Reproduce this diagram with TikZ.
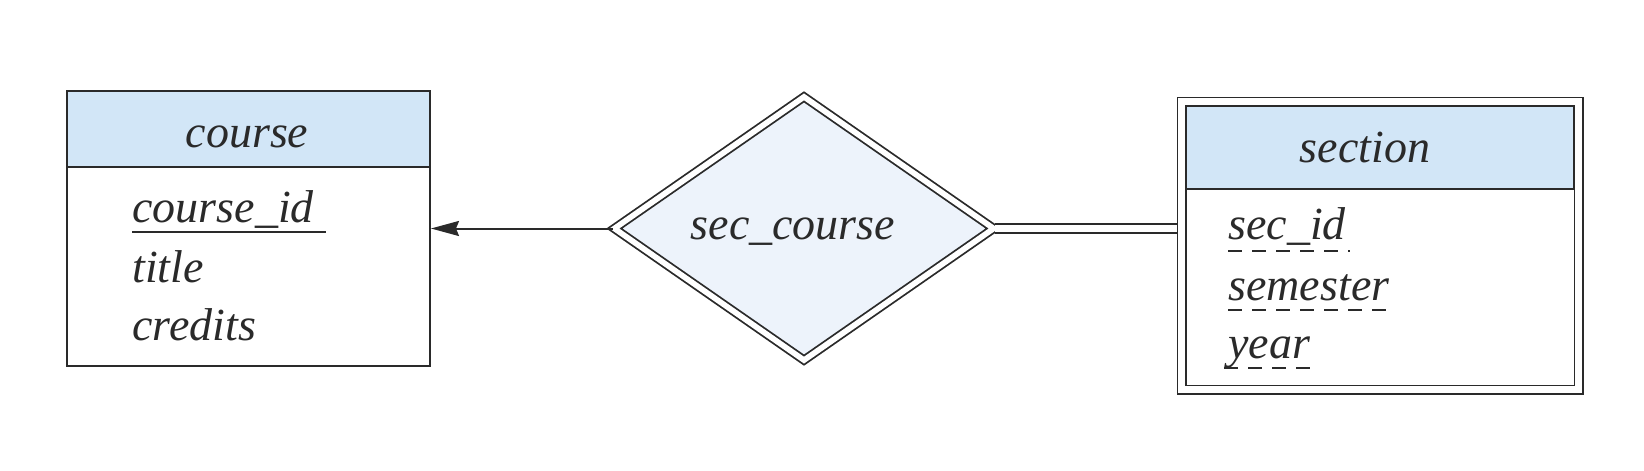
\documentclass[tikz,border=0pt]{standalone}
\usepackage{fontspec}
\setmainfont{Liberation Serif}
\usetikzlibrary{shapes.geometric,arrows.meta}
\definecolor{hdr}{HTML}{D2E6F7}
\definecolor{relfill}{HTML}{EDF3FB}
\definecolor{ink}{HTML}{2A2A2A}
\begin{document}
\begin{tikzpicture}[x=0.5pt,y=-0.5pt,
  lbl/.style={font=\fontsize{23}{27}\selectfont\itshape, text=ink, inner sep=0pt, anchor=base},
  attr/.style={lbl, anchor=base west},
  single/.style={draw=ink, line width=1pt},
  dbl/.style={draw=ink, double=white, line width=0.9pt, double distance=3.2pt},
  keyline/.style={draw=ink, line width=0.9pt},
  partkey/.style={draw=ink, line width=0.9pt, dash pattern=on 7pt off 5pt}
]
\useasboundingbox (0,0) rectangle (1644,471);

% course entity
\node[single, fill=hdr, minimum width=181.5pt, minimum height=38pt, inner sep=0pt] (coursehead) at (248.5,129) {};
\node[single, fill=white, minimum width=181.5pt, minimum height=99.5pt, inner sep=0pt] (coursebody) at (248.5,266.5) {};
\node[lbl] (coursename) at (247,147) {course};
\node[attr] (cid) at (132,222) {course\_id};
\node[attr] (ctitle) at (132,282) {title};
\node[attr] (ccredits) at (132,340) {credits};
\draw[keyline] ([yshift=-5pt]cid.base west) -- ([yshift=-5pt,xshift=6pt]cid.base east);

% relationship
\node[diamond, dbl, double distance=2.8pt, fill=relfill, minimum width=190pt, minimum height=132pt, inner sep=0pt] (rel) at (804,228.5) {};
\node[lbl] (relname) at (793,239) {sec\_course};

% section weak entity
\node[draw=ink, line width=0.9pt, fill=hdr, minimum width=194pt, minimum height=42pt, inner sep=0pt] (sectionhead) at (1380,147) {};
\node[dbl, minimum width=198.5pt, minimum height=144pt, inner sep=0pt, outer sep=2.5pt] (section) at (1380,245.5) {};
\node[lbl] (secname) at (1365,162) {section};
\node[attr] (sid) at (1228,239) {sec\_id};
\node[attr] (ssem) at (1228,300) {semester};
\node[attr] (syear) at (1228,358) {year};
\draw[partkey] ([yshift=-6pt]sid.base west) -- ([yshift=-6pt,xshift=2pt]sid.base east);
\draw[partkey] ([yshift=-5pt]ssem.base west) -- ([yshift=-5pt,xshift=2pt]ssem.base east);
\draw[partkey] ([yshift=-5pt,xshift=-2pt]syear.base west) -- ([yshift=-5pt,xshift=4pt]syear.base east);

% connectors
\draw[single, -{Stealth[length=14pt,width=7.5pt,inset=1.5pt]}] (rel.west) -- (rel.west -| coursebody.east);
\draw[draw=ink, double=white, line width=0.9pt, double distance=3.8pt] (rel.east) -- (rel.east -| section.west);
\end{tikzpicture}
\end{document}
